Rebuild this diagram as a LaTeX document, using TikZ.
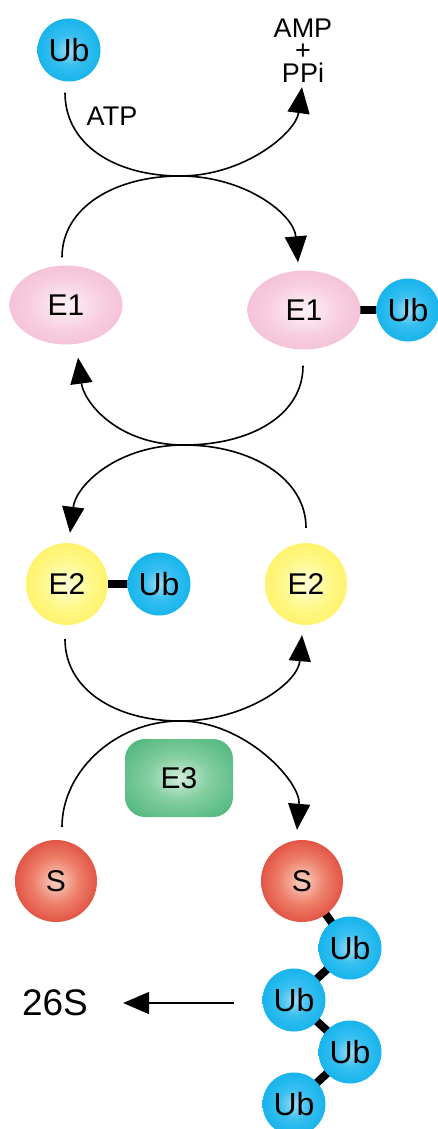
\documentclass[tikz,border=0pt]{standalone}
\usepackage{fontspec}
\setmainfont{Liberation Sans}
\usetikzlibrary{arrows.meta,shapes.geometric,backgrounds}
\pgfdeclareradialshading{ubball}{\pgfpoint{0bp}{0bp}}{rgb(0bp)=(0.62,0.86,0.97); rgb(12bp)=(0.22,0.75,0.94); rgb(30bp)=(0.04,0.69,0.92); rgb(50bp)=(0.0,0.66,0.91)}
\pgfdeclareradialshading{sball}{\pgfpoint{0bp}{0bp}}{rgb(0bp)=(0.98,0.82,0.76); rgb(14bp)=(0.93,0.50,0.42); rgb(30bp)=(0.87,0.26,0.20); rgb(50bp)=(0.84,0.17,0.13)}
\pgfdeclareradialshading{eyball}{\pgfpoint{0bp}{0bp}}{rgb(0bp)=(1,1,0.84); rgb(16bp)=(1,0.97,0.52); rgb(34bp)=(1,0.93,0.33); rgb(50bp)=(1,0.92,0.27)}
\pgfdeclareradialshading{epball}{\pgfpoint{0bp}{0bp}}{rgb(0bp)=(1,0.95,0.97); rgb(16bp)=(0.97,0.81,0.88); rgb(34bp)=(0.95,0.72,0.82); rgb(50bp)=(0.94,0.69,0.80)}
\pgfdeclareradialshading{egball}{\pgfpoint{0bp}{0bp}}{rgb(0bp)=(0.82,0.93,0.86); rgb(14bp)=(0.52,0.81,0.63); rgb(30bp)=(0.34,0.73,0.51); rgb(72bp)=(0.30,0.71,0.48)}
\begin{document}
\begin{tikzpicture}[x=1pt,y=-1pt,
  ub/.style={circle,minimum size=63pt,inner sep=0pt,shade,shading=ubball,font=\fontsize{32}{32}\selectfont},
  sub/.style={circle,minimum size=82pt,inner sep=0pt,shade,shading=sball,font=\fontsize{30}{30}\selectfont},
  etwo/.style={circle,minimum size=82pt,inner sep=0pt,shade,shading=eyball,font=\fontsize{30}{30}\selectfont},
  eone/.style={ellipse,minimum width=113pt,minimum height=79pt,inner sep=0pt,shade,shading=epball,font=\fontsize{30}{30}\selectfont},
  ethree/.style={rectangle,rounded corners=20pt,minimum width=108pt,minimum height=78pt,inner sep=0pt,shade,shading=egball,font=\fontsize{30}{30}\selectfont},
  bond/.style={line width=8pt},
  flow/.style={line width=1.6pt,-{Triangle[length=26pt,width=22pt]}},
  lbl/.style={inner sep=0pt,font=\fontsize{27}{27}\selectfont}]
\useasboundingbox (0,0) rectangle (437,1129);
% nodes
\node[ub] (ub0) at (69,50) {Ub};
\node[lbl] (atp) at (112,116) {ATP};
\node[lbl,anchor=base] (amp) at (303,38) {AMP};
\node[lbl,anchor=base] (plus) at (303,60) {+};
\node[lbl,anchor=base] (ppi) at (303,83) {PPi};
\node[eone] (e1a) at (66,305) {E1};
\node[eone] (e1b) at (304,310) {E1};
\node[ub] (ub1) at (408,310) {Ub};
\node[etwo] (e2a) at (67,584) {E2};
\node[ub] (ub2) at (159,584) {Ub};
\node[etwo] (e2b) at (306,584) {E2};
\node[ethree] (e3) at (179,778) {E3};
\node[sub] (sa) at (56,881) {S};
\node[sub] (sb) at (302,881) {S};
\node[ub] (u1) at (350,948) {Ub};
\node[ub] (u2) at (294,1000) {Ub};
\node[ub] (u3) at (350,1052) {Ub};
\node[ub] (u4) at (294,1104) {Ub};
\node[inner sep=0pt,font=\fontsize{37}{37}\selectfont] (t26) at (55,1003) {26S};
% bonds
\begin{scope}[on background layer]
\draw[bond] (e1b.center) -- (ub1.center);
\draw[bond] (e2a.center) -- (ub2.center);
\draw[bond] (sb.center) -- (u1.center);
\draw[bond] (u1.center) -- (u2.center);
\draw[bond] (u2.center) -- (u3.center);
\draw[bond] (u3.center) -- (u4.center);
\end{scope}
% crossing points
\coordinate (x1) at (180,176);
\coordinate (x2) at (184,445);
\coordinate (x3) at (180,721);
% curves
\draw[flow] ([shift={(-4,11)}]ub0.south) .. controls +(0,52) and +(-65,0) .. (x1)
  .. controls +(65,0) and +(-6,45) .. ([shift={(-1,4)}]ppi.south);
\draw[flow] ([shift={(-4,-8)}]e1a.north) .. controls +(0,-50) and +(-65,0) .. (x1)
  .. controls +(65,0) and +(-4,-48) .. ([shift={(-6,-8)}]e1b.north);
\draw[flow] ([shift={(-1,16)}]e1b.south) .. controls +(0,50) and +(66,0) .. (x2)
  .. controls +(-66,0) and +(6,45) .. ([shift={(12,13)}]e1a.south);
\draw[flow] ([shift={(0,-15)}]e2b.north) .. controls +(0,-50) and +(66,0) .. (x2)
  .. controls +(-66,0) and +(6,-48) .. ([shift={(3,-10)}]e2a.north);
\draw[flow] ([shift={(-2,14)}]e2a.south) .. controls +(0,50) and +(-65,0) .. (x3)
  .. controls +(65,0) and +(-4,48) .. ([shift={(-4,10)}]e2b.south);
\draw[flow] ([shift={(6,-13)}]sa.north) .. controls +(0,-55) and +(-65,0) .. (x3)
  .. controls +(65,0) and +(4,-48) .. ([shift={(-5,-10)}]sb.north);
\draw[flow] ([xshift=-28pt]u2.west |- t26.east) -- ([xshift=35pt]t26.east);
\end{tikzpicture}
\end{document}
